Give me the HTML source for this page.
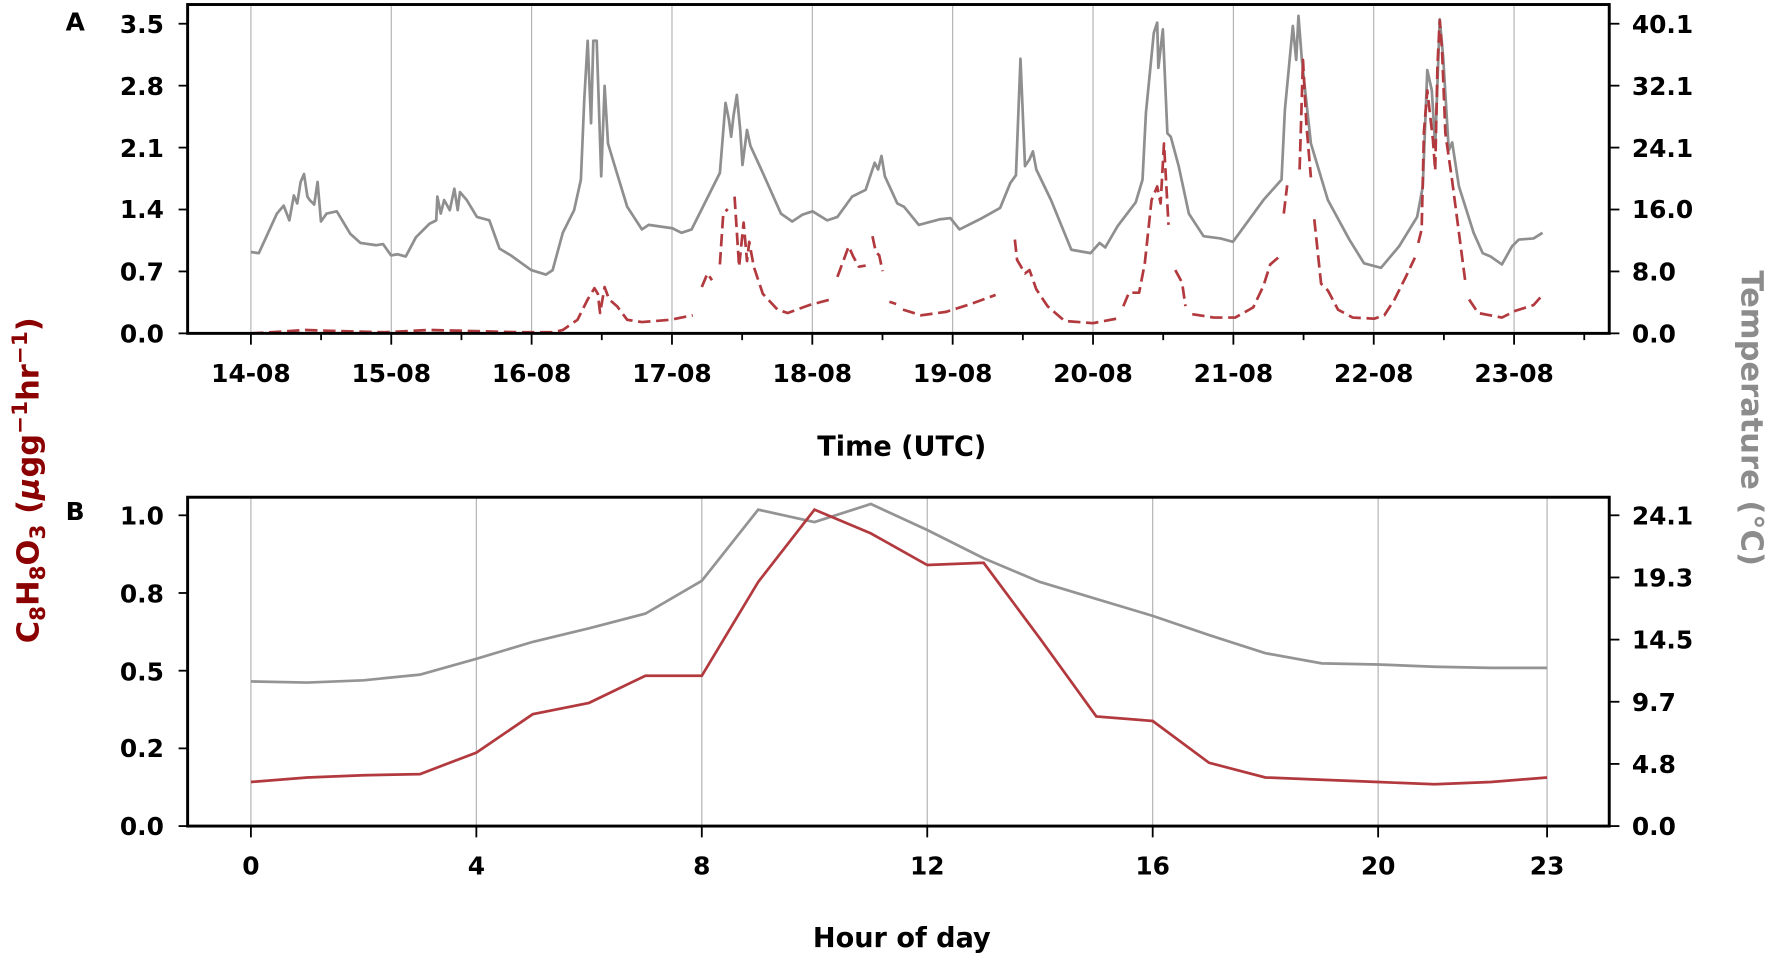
<!DOCTYPE html>
<html><head><meta charset="utf-8"><style>
html,body{margin:0;padding:0;background:#fff;}
svg{display:block}
text{font-family:"DejaVu Sans","Liberation Sans",sans-serif;font-weight:bold;}
</style></head><body>
<svg width="1772" height="961" viewBox="0 0 1568 850.4" xmlns="http://www.w3.org/2000/svg">
<rect x="0" y="0" width="1568" height="850.4" fill="#fff"/>
<g stroke="#b0b0b0" stroke-width="1">
<line x1="222" y1="4" x2="222" y2="295"/><line x1="346.2" y1="4" x2="346.2" y2="295"/>
<line x1="470.4" y1="4" x2="470.4" y2="295"/><line x1="594.6" y1="4" x2="594.6" y2="295"/>
<line x1="718.8" y1="4" x2="718.8" y2="295"/><line x1="843" y1="4" x2="843" y2="295"/>
<line x1="967.2" y1="4" x2="967.2" y2="295"/><line x1="1091.4" y1="4" x2="1091.4" y2="295"/>
<line x1="1215.6" y1="4" x2="1215.6" y2="295"/><line x1="1339.8" y1="4" x2="1339.8" y2="295"/>
</g>
<polyline fill="none" stroke="#8f8f8f" stroke-width="2.4" stroke-linejoin="round" points="222,223 229,224 245,189 251,182 256,195 260,173 263,180 266,161 269,154 272,174 274,177 278,181 281,161 284,196 289,189 298,187 310,207 319,215 333,217 339,216 346,226 352,225 359,227 368,210 380,198 386,195 387,174 390,189 393,177 398,186 402,167 405,186 407,170 413,177 422,192 433,195 442,220 452,226 470,239 483,243 489,239 498,206 508,186 514,159 517,88 520,36 523,109 525,36 528,36 532,156 535,76 538,127 544,147 555,183 568,203 574,199 595,202 603,206 612,203 625,177 637,153 642,91 645,106 647,121 649,103 652,84 655,115 657,146 661,115 664,129 675,153 691,189 701,196 710,190 719,187 732,195 741,192 754,174 766,168 774,144 777,150 780,138 783,156 794,180 800,183 813,199 832,194 841,193 849,203 869,193 885,184 894,162 899,155 903,52 907,147 911,141 914,134 917,150 930,177 948,221 965,224 973,215 978,219 989,200 1005,179 1011,159 1014,100 1021,29 1024,20 1025,60 1029,26 1033,118 1036,121 1043,147 1052,189 1065,209 1080,211 1091,214 1099,203 1118,177 1134,159 1137,97 1144,23 1147,53 1149,14 1152,53 1160,127 1175,177 1194,212 1207,233 1222,237 1238,218 1254,192 1259,165 1263,62 1267,80 1270,130 1274,17 1277,50 1282,133 1285,126 1291,165 1304,206 1312,224 1319,227 1329,234 1338,218 1344,212 1357,211 1365,206"/>
<g fill="none" stroke="#b23a3f" stroke-width="2.4" stroke-linejoin="round" stroke-dasharray="11 5">
<polyline points="222,295 240,294 270,292 300,293 340,294 380,292 420,293 460,294 490,294 498,292 511,283 520,265 526,255 529,260 531,277 535,254 539,265 546,271 555,283 568,285 593,283 613,279"/>
<polyline points="621,254 626,242 630,248"/>
<polyline points="637,234 640,189 644,185"/>
<polyline points="650,174 654,236 658,197 661,231 663,214 667,236 675,260 688,274 697,277 716,270 735,265"/>
<polyline points="741,245 751,218 755,227 760,236 766,235"/>
<polyline points="772,209 775,223 778,226 781,240"/>
<polyline points="787,267 793,269"/>
<polyline points="799,274 815,279 837,276 859,269 881,261"/>
<polyline points="898,212 900,230 907,242 911,239 917,256 927,271 942,284 967,286 988,282"/>
<polyline points="994,271 999,259 1008,259 1013,233 1019,177 1024,165 1027,180 1030,127 1034,199"/>
<polyline points="1040,239 1046,250 1049,271"/>
<polyline points="1055,278 1074,281 1093,281 1109,272 1118,253 1124,234 1131,228"/>
<polyline points="1136,189 1139,164"/>
<polyline points="1150,150 1153,53 1156,110 1160,157"/>
<polyline points="1163,194 1169,251 1175,257 1184,274 1197,281 1216,282 1225,279 1234,265 1244,245 1252,228"/>
<polyline points="1255,215 1258,203 1260,117 1263,80 1268,124 1270,151 1272,58 1274,18 1276,43 1279,118 1285,160 1297,252"/>
<polyline points="1300,265 1308,277 1329,281 1341,275 1357,270 1365,261"/>
</g>
<rect x="166" y="4" width="1258" height="291" fill="none" stroke="#000" stroke-width="2.6"/>
<g stroke="#000" stroke-width="1.6">
<line x1="158" y1="21" x2="166" y2="21"/><line x1="158" y1="75.8" x2="166" y2="75.8"/><line x1="158" y1="130.6" x2="166" y2="130.6"/><line x1="158" y1="185.4" x2="166" y2="185.4"/><line x1="158" y1="240.2" x2="166" y2="240.2"/><line x1="158" y1="295" x2="166" y2="295"/>
<line x1="1424" y1="21" x2="1433" y2="21"/><line x1="1424" y1="75.8" x2="1433" y2="75.8"/><line x1="1424" y1="130.6" x2="1433" y2="130.6"/><line x1="1424" y1="185.4" x2="1433" y2="185.4"/><line x1="1424" y1="240.2" x2="1433" y2="240.2"/><line x1="1424" y1="295" x2="1433" y2="295"/>
<line x1="222" y1="295" x2="222" y2="305"/><line x1="346.2" y1="295" x2="346.2" y2="305"/><line x1="470.4" y1="295" x2="470.4" y2="305"/><line x1="594.6" y1="295" x2="594.6" y2="305"/><line x1="718.8" y1="295" x2="718.8" y2="305"/><line x1="843" y1="295" x2="843" y2="305"/><line x1="967.2" y1="295" x2="967.2" y2="305"/><line x1="1091.4" y1="295" x2="1091.4" y2="305"/><line x1="1215.6" y1="295" x2="1215.6" y2="305"/><line x1="1339.8" y1="295" x2="1339.8" y2="305"/>
<line x1="284.1" y1="295" x2="284.1" y2="301"/><line x1="408.3" y1="295" x2="408.3" y2="301"/><line x1="532.5" y1="295" x2="532.5" y2="301"/><line x1="656.7" y1="295" x2="656.7" y2="301"/><line x1="780.9" y1="295" x2="780.9" y2="301"/><line x1="905.1" y1="295" x2="905.1" y2="301"/><line x1="1029.3" y1="295" x2="1029.3" y2="301"/><line x1="1153.5" y1="295" x2="1153.5" y2="301"/><line x1="1277.7" y1="295" x2="1277.7" y2="301"/><line x1="1401.9" y1="295" x2="1401.9" y2="301"/>
</g>
<g font-size="22" text-anchor="end" fill="#000">
<text x="145" y="29">3.5</text><text x="145" y="84">2.8</text><text x="145" y="139">2.1</text><text x="145" y="193">1.4</text><text x="145" y="248">0.7</text><text x="145" y="303">0.0</text>
</g>
<g font-size="22" text-anchor="start" fill="#000">
<text x="1444" y="29">40.1</text><text x="1444" y="84">32.1</text><text x="1444" y="139">24.1</text><text x="1444" y="193">16.0</text><text x="1444" y="248">8.0</text><text x="1444" y="303">0.0</text>
</g>
<g font-size="22" text-anchor="middle" fill="#000">
<text x="222" y="338">14-08</text><text x="346.2" y="338">15-08</text><text x="470.4" y="338">16-08</text><text x="594.6" y="338">17-08</text><text x="718.8" y="338">18-08</text><text x="843" y="338">19-08</text><text x="967.2" y="338">20-08</text><text x="1091.4" y="338">21-08</text><text x="1215.6" y="338">22-08</text><text x="1339.8" y="338">23-08</text>
<text x="798" y="403" font-size="24">Time (UTC)</text>
<text x="798" y="838" font-size="24">Hour of day</text>
</g>
<text x="58" y="27" font-size="22">A</text>
<text x="58" y="460" font-size="22">B</text>
<g stroke="#b0b0b0" stroke-width="1">
<line x1="222" y1="440" x2="222" y2="731"/><line x1="421.5" y1="440" x2="421.5" y2="731"/><line x1="621" y1="440" x2="621" y2="731"/><line x1="820.5" y1="440" x2="820.5" y2="731"/><line x1="1020" y1="440" x2="1020" y2="731"/><line x1="1219.5" y1="440" x2="1219.5" y2="731"/><line x1="1369" y1="440" x2="1369" y2="731"/>
</g>
<polyline fill="none" stroke="#949494" stroke-width="2.4" points="222,603 271.9,604 321.7,602 371.6,597 421.5,583 471.4,568 521.2,556 571.1,543 621,514 670.9,451 720.7,462 770.6,446 820.5,469 870.4,494 920.2,515 970.1,530 1020,545 1069.9,562 1119.7,578 1169.6,587 1219.5,588 1269.4,590 1319.2,591 1369,591"/>
<polyline fill="none" stroke="#b23a3f" stroke-width="2.4" points="222,692 271.9,688 321.7,686 371.6,685 421.5,666 471.4,632 521.2,622 571.1,598 621,598 670.9,515 720.7,451 770.6,472 820.5,500 870.4,498 920.2,565 970.1,634 1020,638 1069.9,675 1119.7,688 1169.6,690 1219.5,692 1269.4,694 1319.2,692 1369,688"/>
<rect x="166" y="440" width="1258" height="291" fill="none" stroke="#000" stroke-width="2.6"/>
<g stroke="#000" stroke-width="1.6">
<line x1="158" y1="456" x2="166" y2="456"/><line x1="158" y1="524.75" x2="166" y2="524.75"/><line x1="158" y1="593.5" x2="166" y2="593.5"/><line x1="158" y1="662.25" x2="166" y2="662.25"/><line x1="158" y1="731" x2="166" y2="731"/>
<line x1="1424" y1="456" x2="1433" y2="456"/><line x1="1424" y1="511" x2="1433" y2="511"/><line x1="1424" y1="566" x2="1433" y2="566"/><line x1="1424" y1="621" x2="1433" y2="621"/><line x1="1424" y1="676" x2="1433" y2="676"/><line x1="1424" y1="731" x2="1433" y2="731"/>
<line x1="222" y1="731" x2="222" y2="741"/><line x1="421.5" y1="731" x2="421.5" y2="741"/><line x1="621" y1="731" x2="621" y2="741"/><line x1="820.5" y1="731" x2="820.5" y2="741"/><line x1="1020" y1="731" x2="1020" y2="741"/><line x1="1219.5" y1="731" x2="1219.5" y2="741"/><line x1="1369" y1="731" x2="1369" y2="741"/>
</g>
<g font-size="22" text-anchor="end" fill="#000">
<text x="145" y="464">1.0</text><text x="145" y="533">0.8</text><text x="145" y="602">0.5</text><text x="145" y="670">0.2</text><text x="145" y="739">0.0</text>
</g>
<g font-size="22" text-anchor="start" fill="#000">
<text x="1444" y="464">24.1</text><text x="1444" y="519">19.3</text><text x="1444" y="574">14.5</text><text x="1444" y="629">9.7</text><text x="1444" y="684">4.8</text><text x="1444" y="739">0.0</text>
</g>
<g font-size="22" text-anchor="middle" fill="#000">
<text x="222" y="774">0</text><text x="421.5" y="774">4</text><text x="621" y="774">8</text><text x="820.5" y="774">12</text><text x="1020" y="774">16</text><text x="1219.5" y="774">20</text><text x="1369" y="774">23</text>
</g>
<text transform="translate(34,425) rotate(-90)" text-anchor="middle" font-size="27" fill="#8b0000">C<tspan font-size="19" dy="6">8</tspan><tspan dy="-6">H</tspan><tspan font-size="19" dy="6">8</tspan><tspan dy="-6">O</tspan><tspan font-size="19" dy="6">3</tspan><tspan dy="-6"> (</tspan><tspan font-style="italic">μ</tspan>gg<tspan font-size="19" dy="-10">−1</tspan><tspan dy="10">hr</tspan><tspan font-size="19" dy="-10">−1</tspan><tspan dy="10">)</tspan></text>
<text transform="translate(1541,370) rotate(90)" text-anchor="middle" font-size="27" fill="#8c8c8c">Temperature (°C)</text>
</svg>
</body></html>
